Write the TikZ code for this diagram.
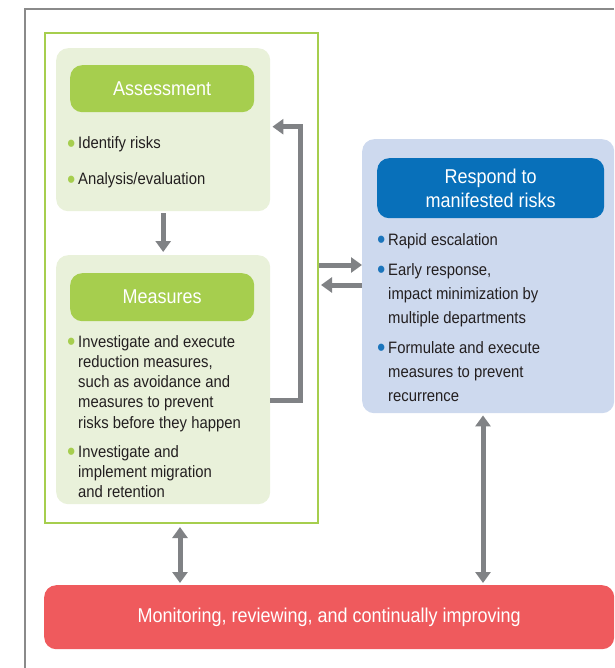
\documentclass[tikz,border=0pt]{standalone}
\usepackage{fontspec}
\usepackage{graphicx}
\setmainfont{Liberation Sans}[FakeStretch=0.9]
\usetikzlibrary{arrows.meta,positioning}

\definecolor{lgreen}{HTML}{E9F1DA}
\definecolor{hgreen}{HTML}{A6CE4E}
\definecolor{lblue}{HTML}{CDD9EE}
\definecolor{hblue}{HTML}{0870BA}
\definecolor{dblue}{HTML}{1B75BC}
\definecolor{mred}{HTML}{EF5A5D}
\definecolor{arrgray}{HTML}{808285}
\definecolor{framegray}{HTML}{8A8A8A}
\definecolor{textcol}{HTML}{231F20}

\newcommand\headfont{\fontsize{20}{24.5}\selectfont}
\newcommand\bodyfont{\fontsize{16.5}{20.3}\selectfont}
\newcommand\bul[1]{\makebox[11pt][l]{\textcolor{#1}{\raisebox{-3.8pt}{\scalebox{1.6}{\textbullet}}}}}

\begin{document}
\begin{tikzpicture}[x=1pt,y=-1pt,
    box/.style={rounded corners=12pt,anchor=north west,inner sep=0pt},
    head/.style={box,text=white,font=\headfont,align=center},
    blist/.style={anchor=base west,inner sep=0pt,text=textcol,font=\bodyfont},
    tip/.tip={Triangle[width=15pt,length=11pt]},
    flow/.style={draw=arrgray,line width=5pt,-tip},
    dflow/.style={draw=arrgray,line width=5pt,tip-tip}]
    \useasboundingbox (0,0) rectangle (614,668);
    \draw[framegray,line width=1.5pt] (614,9) -- (25,9) -- (25,668);

    % left block
    \node[draw=hgreen,line width=2pt,minimum width=273pt,minimum height=490pt,
          anchor=north west,inner sep=0pt] (frame) at (44,32) {};
    \node[box,fill=lgreen,minimum width=214pt,minimum height=163pt] (assessbg) at (56,48) {};
    \node[head,fill=hgreen,minimum width=184pt,minimum height=47pt] (assess) at (70,65) {Assessment};
    \node[blist] (risks) at (67,149) {\bul{hgreen}Identify risks};
    \node[blist] (eval)  at (67,185) {\bul{hgreen}Analysis/evaluation};

    \node[box,fill=lgreen,minimum width=214pt,minimum height=249pt] (measbg) at (56,255) {};
    \node[head,fill=hgreen,minimum width=184pt,minimum height=48pt] (meas) at (70,273) {Measures};
    \node[blist] (reduce) at (67,347) {\bul{hgreen}\begin{tabular}[t]{@{}l@{}}Investigate and execute\\reduction measures,\\such as avoidance and\\measures to prevent\\risks before they happen\end{tabular}};
    \node[blist] (migrate) at (67,457) {\bul{hgreen}\begin{tabular}[t]{@{}l@{}}Investigate and\\implement migration\\and retention\end{tabular}};

    % right block
    \node[box,fill=lblue,minimum width=252pt,minimum height=274pt] (respbg) at (362,139) {};
    \node[head,fill=hblue,minimum width=227pt,minimum height=60pt] (resp) at (377,158) {Respond to\\manifested risks};
    \node[blist,font=\fontsize{16.5}{24}\selectfont] (escal) at (377,245) {\bul{dblue}Rapid escalation};
    \node[blist,font=\fontsize{16.5}{24}\selectfont] (early) at (377,275) {\bul{dblue}\begin{tabular}[t]{@{}l@{}}Early response,\\impact minimization by\\multiple departments\end{tabular}};
    \node[blist,font=\fontsize{16.5}{24}\selectfont] (recur) at (377,353) {\bul{dblue}\begin{tabular}[t]{@{}l@{}}Formulate and execute\\measures to prevent\\recurrence\end{tabular}};

    % bottom bar
    \node[box,fill=mred,text=white,font=\headfont,minimum width=570pt,minimum height=64pt] (monitor) at (44,585) {Monitoring, reviewing, and continually improving};

    \draw[flow] ([yshift=-2pt]assessbg.south) -- ([yshift=3pt]measbg.north);
    \draw[flow,line join=miter] (measbg.east |- 0,400) -- ++(30,0) |- ([xshift=2pt,yshift=3pt]assessbg.east);
    \draw[flow] (frame.east |- 0,265) -- (respbg.west |- 0,265);
    \draw[flow] (respbg.west |- 0,285) -- ([xshift=2pt]frame.east |- 0,285);
    \draw[dflow] ([yshift=-3pt]frame.south -| 180,0) -- ([yshift=2pt]monitor.north -| 180,0);
    \draw[dflow] ([yshift=-2pt]respbg.south -| 483,0) -- ([yshift=2pt]monitor.north -| 483,0);
\end{tikzpicture}
\end{document}
